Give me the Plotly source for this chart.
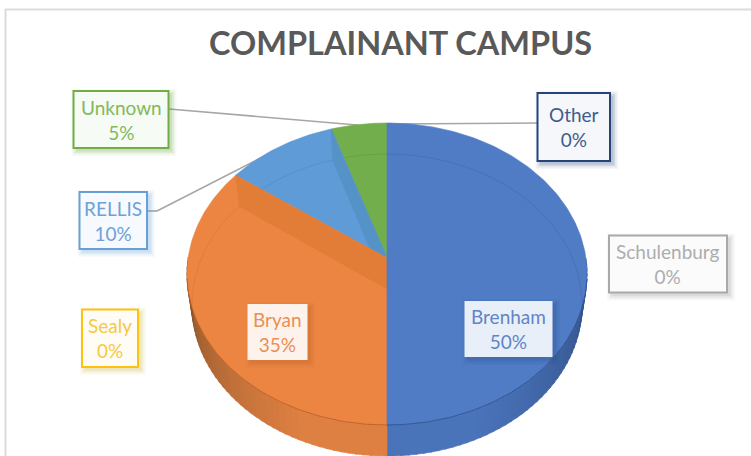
import math
import plotly.graph_objects as go

# ---- data (clockwise from 12 o'clock) ----
categories = ["Brenham", "Schulenburg", "Bryan", "Sealy", "RELLIS", "Unknown", "Other"]
values = [50, 0, 35, 0, 10, 5, 0]
title_text = "COMPLAINANT CAMPUS"

# ---- styling ----
slice_colors = {"Brenham": "#4f7cc4", "Bryan": "#ed8542", "RELLIS": "#5f9bd6", "Unknown": "#72ae4b"}
wall_colors = {"Bryan": "#e27d38", "RELLIS": "#5592c8"}
box_style = {
    "Brenham":     dict(box=(464.5, 301, 552.5, 357), text="#5f85c6", line=None,      fill="#e9eff8", shadow="#2f4f88"),
    "Schulenburg": dict(box=(609, 235.5, 727, 292.5), text="#adadad", line="#a9a9a9", fill="#fbfbfb", shadow="#8a8a8a"),
    "Bryan":       dict(box=(247.5, 304, 307.5, 360), text="#ea8f55", line=None,      fill="#fdf3ec", shadow="#b5602a"),
    "Sealy":       dict(box=(82, 309.5, 138, 367), text="#f6c944", line="#fcc20e",    fill="#fefcf4", shadow="#c9b030"),
    "RELLIS":      dict(box=(79.5, 192, 147, 249), text="#6da2d8", line="#68a0d6",    fill="#f6f9fd", shadow="#5b9bd5"),
    "Unknown":     dict(box=(73.5, 91, 168.5, 148), text="#82b85e", line="#70ad47",   fill="#f7fbf5", shadow="#5f9a3a"),
    "Other":       dict(box=(537.5, 93, 610, 161), text="#3f5c8e", line="#264478",    fill="#f5f7fa", shadow="#264478"),
}
leaders = {
    "Unknown": [(169, 109), (357, 125)],
    "RELLIS": [(147, 211), (157, 211), (282, 147)],
    "Other": [(537, 123), (387, 124)],
}

# ---- projection of the tilted pie ----
CX, APEX_Y, TILT_K, TILT_B = 387, 258, 0.106, 149.3
TOP_A, LOW_A, DROP = 198.9, 194, 31


def project(deg, a=TOP_A, dy=0):
    t = math.radians(deg)
    w = 1 + TILT_K * math.cos(t)
    return CX + a * math.sin(t) / w, APEX_Y + dy - TILT_B * math.cos(t) / w


def arc(d0, d1, a=TOP_A, dy=0, step=1.0):
    n = max(2, int(abs(d1 - d0) / step) + 1)
    return [project(d0 + (d1 - d0) * i / (n - 1), a, dy) for i in range(n)]


def lerp(c0, c1, f):
    return "rgb(%d,%d,%d)" % tuple(c0[i] + (c1[i] - c0[i]) * f for i in range(3))


fig = go.Figure()


def poly(points, color):
    xs = [p[0] for p in points] + [points[0][0]]
    ys = [p[1] for p in points] + [points[0][1]]
    fig.add_trace(go.Scatter(x=xs, y=ys, mode="lines", fill="toself", fillcolor=color,
                             line=dict(color=color, width=0.6), hoverinfo="skip", showlegend=False))


def stroke(points, color, width=1.0):
    fig.add_trace(go.Scatter(x=[p[0] for p in points], y=[p[1] for p in points], mode="lines",
                             line=dict(color=color, width=width), hoverinfo="skip", showlegend=False))


# cumulative angles from the values
total = sum(values)
spans = {}
acc = 0
for cat, val in zip(categories, values):
    spans[cat] = (acc / total * 360, (acc + val) / total * 360)
    acc += val

# side wall with shading: dark where it emerges, lighter towards the front
STEP = 2
for d in range(90, 180, STEP):
    f = min(1, (d - 90) / 66) ** 0.7
    poly([project(d, LOW_A, DROP), project(d + STEP + 0.4, LOW_A, DROP), project(d + STEP + 0.4), project(d)],
         lerp((42, 66, 116), (74, 116, 186), f))
for d in range(180, 270, STEP):
    f = min(1, (270 - d - STEP) / 66) ** 0.7
    poly([project(d, LOW_A, DROP), project(d + STEP + 0.4, LOW_A, DROP), project(d + STEP + 0.4), project(d)],
         lerp((112, 70, 34), (222, 128, 66), f))

# slices: far ones first so that nearer walls overlap them
apex = (CX, APEX_Y)
apex_low = (CX, APEX_Y + DROP)
for cat in ["Unknown", "RELLIS"]:
    d0, d1 = spans[cat]
    poly([apex] + arc(d0, d1), slice_colors[cat])
e = spans["RELLIS"][1]
poly([project(e), apex, apex_low, project(e, LOW_A, DROP)], wall_colors["RELLIS"])
d0, d1 = spans["Bryan"]
poly([apex] + arc(d0, d1), slice_colors["Bryan"])
poly([project(d1), apex, apex_low, project(d1, LOW_A, DROP)], wall_colors["Bryan"])
d0, d1 = spans["Brenham"]
poly([apex] + arc(d0, d1), slice_colors["Brenham"])

# bevel lines on the top face
ax, ay = project(spans["Bryan"][1])


def above_orange_edge(p):
    return p[1] < ay + (p[0] - ax) * (APEX_Y - ay) / (CX - ax)


stroke(arc(0, 100, LOW_A, DROP), "rgba(50,85,150,0.28)", 1)
stroke(arc(spans["Bryan"][1], 262, LOW_A, DROP), "rgba(190,100,40,0.28)", 1)
stroke([p for p in arc(spans["Bryan"][1], spans["RELLIS"][1], LOW_A, DROP) if above_orange_edge(p)],
       "rgba(60,120,170,0.28)", 1)
stroke(arc(spans["RELLIS"][1] + 4, 360, LOW_A, DROP), "rgba(80,130,50,0.28)", 1)
stroke(arc(180, 262), "rgba(170,85,30,0.7)", 1)
stroke(arc(98, 180), "rgba(40,70,130,0.7)", 1)

# ---- non-data furniture: frame, leader lines, label boxes ----
shapes = [
    dict(type="line", xref="x", yref="y", x0=5.5, x1=5.5, y0=9, y1=456, line=dict(color="#dcdcdc", width=2), layer="below"),
    dict(type="line", xref="x", yref="y", x0=5, x1=751, y0=9.5, y1=9.5, line=dict(color="#dcdcdc", width=2), layer="below"),
]
for name, pts in leaders.items():
    for (x0, y0), (x1, y1) in zip(pts, pts[1:]):
        shapes.append(dict(type="line", xref="x", yref="y", x0=x0, y0=y0, x1=x1, y1=y1,
                           line=dict(color="#a6a6a6", width=1.6), layer="below"))

annotations = []
for cat, val in zip(categories, values):
    st = box_style[cat]
    x0, y0, x1, y1 = st["box"]
    for grow, op in ((5, 0.05), (3.5, 0.07), (2, 0.1), (0.5, 0.13)):
        shapes.append(dict(type="rect", xref="x", yref="y", x0=x0 + 3 - grow, x1=x1 + 3 + grow,
                           y0=y0 + 3 - grow, y1=y1 + 3 + grow, fillcolor=st["shadow"], opacity=op,
                           line=dict(width=0), layer="above"))
    shapes.append(dict(type="rect", xref="x", yref="y", x0=x0, x1=x1, y0=y0, y1=y1, fillcolor=st["fill"],
                       line=dict(color=st["line"] or st["fill"], width=2 if st["line"] else 0), layer="above"))
    annotations.append(dict(x=(x0 + x1) / 2, y=(y0 + y1) / 2, xref="x", yref="y", showarrow=False,
                            text=f"{cat}<br>{val}%", align="center",
                            font=dict(family="Lato", size=19, color=st["text"])))

annotations.append(dict(x=400.5, y=42, xref="x", yref="y", showarrow=False, text=f"<b>{title_text}</b>",
                        font=dict(family="Lato", size=32.5, color="#595959")))

fig.update_layout(
    width=751, height=456, autosize=False,
    margin=dict(l=0, r=0, t=0, b=0),
    paper_bgcolor="white", plot_bgcolor="white", showlegend=False,
    xaxis=dict(range=[0, 751], visible=False, fixedrange=True),
    yaxis=dict(range=[456, 0], visible=False, fixedrange=True),
    shapes=shapes, annotations=annotations,
)
fig.write_html("out.html", config=dict(displayModeBar=False),
               post_script="document.body.style.margin='0';document.body.style.overflow='hidden';")
